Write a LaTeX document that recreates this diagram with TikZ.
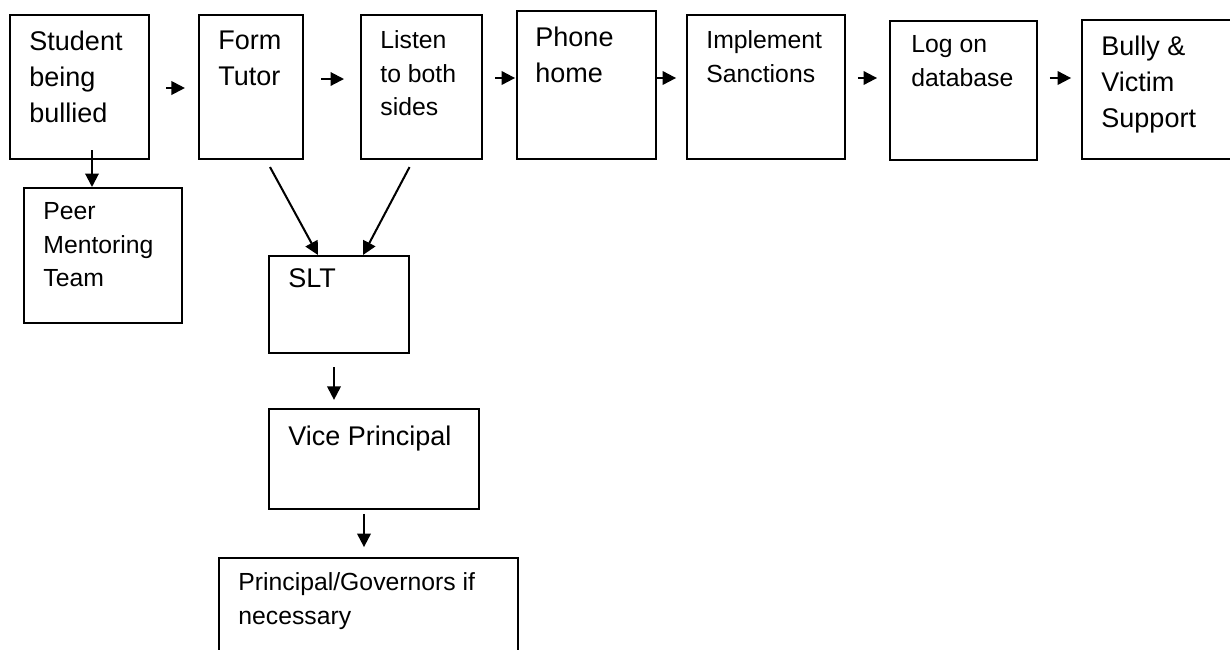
\documentclass[tikz,border=0pt]{standalone}
\usepackage{fontspec}
\setmainfont{Liberation Sans}
\usetikzlibrary{arrows.meta}

\begin{document}
\begin{tikzpicture}[x=0.4444pt, y=-0.4444pt,
    box/.style={draw, line width=0.9pt, inner sep=0pt, anchor=north west},
    big/.style={anchor=north west, inner sep=0pt, align=left, font=\fontsize{12}{16}\selectfont},
    small/.style={anchor=north west, inner sep=0pt, align=left, font=\fontsize{11}{15}\selectfont},
    arr/.style={line width=0.9pt, -{Triangle[length=6pt, width=6pt]}}]
  \useasboundingbox (0,0) rectangle (1230,649);
  % top row
  \node[box, minimum width=61.8pt, minimum height=64pt]   (stu)    at (9,14)    {};
  \node[box, minimum width=46.2pt, minimum height=64pt]   (form)   at (198,14)  {};
  \node[box, minimum width=53.8pt, minimum height=64pt]   (listen) at (360,14)  {};
  \node[box, minimum width=61.8pt, minimum height=65.8pt] (phone)  at (516,10)  {};
  \node[box, minimum width=70.2pt, minimum height=64pt]   (impl)   at (686,14)  {};
  \node[box, minimum width=65.3pt, minimum height=61.8pt] (log)    at (889,20)  {};
  \node[box, minimum width=71.1pt, minimum height=61.8pt] (bully)  at (1081,19) {};
  % lower boxes
  \node[box, minimum width=70.2pt, minimum height=60pt]   (peer)   at (23,187)  {};
  \node[box, minimum width=62.2pt, minimum height=43.1pt] (slt)    at (268,255) {};
  \node[box, minimum width=93.3pt, minimum height=44.4pt] (vp)     at (268,408) {};
  \node[box, minimum width=132.9pt, minimum height=53.3pt] (princ) at (218,557) {};
  % texts
  \node[big]   (stu-t)    at ([shift={(20,16)}]stu.north west)    {Student\\being\\bullied};
  \node[big]   (form-t)   at ([shift={(20,16)}]form.north west)   {Form\\Tutor};
  \node[small] (listen-t) at ([shift={(20,16)}]listen.north west) {Listen\\to both\\sides};
  \node[big]   (phone-t)  at ([shift={(19,16)}]phone.north west)  {Phone\\home};
  \node[small] (impl-t)   at ([shift={(20,16)}]impl.north west)   {Implement\\Sanctions};
  \node[small] (log-t)    at ([shift={(22,15)}]log.north west)    {Log on\\database};
  \node[big]   (bully-t)  at ([shift={(20,16)}]bully.north west)  {Bully \&\\Victim\\Support};
  \node[small] (peer-t)   at ([shift={(20,15)}]peer.north west)   {Peer\\Mentoring\\Team};
  \node[big]   (slt-t)    at ([shift={(20,13)}]slt.north west)    {SLT};
  \node[big]   (vp-t)     at ([shift={(20,17)}]vp.north west)     {Vice Principal};
  \node[small] (princ-t)  at ([shift={(20,15)}]princ.north west)  {Principal/Governors if\\necessary};
  % arrows along the top
  \draw[arr, shorten <=7.1pt, shorten >=5.8pt] (stu.east |- 0,88) -- (form.west |- 0,88);
  \draw[arr, shorten <=7.6pt, shorten >=7.1pt] (form.east |- 0,79) -- (listen.west |- 0,79);
  \draw[arr, shorten <=5.3pt, shorten >=0.4pt] (listen.east |- 0,78) -- (phone.west |- 0,78);
  \draw[arr, shorten >=4.4pt] (phone.east |- 0,78) -- (impl.west |- 0,78);
  \draw[arr, shorten <=5.3pt, shorten >=5.3pt] (impl.east |- 0,78) -- (log.west |- 0,78);
  \draw[arr, shorten <=5.3pt, shorten >=4.4pt] (log.east |- 0,78) -- (bully.west |- 0,78);
  % arrows going down
  \draw[arr, shorten <=-4.4pt] (stu.south -| 92,0) -- (peer.north -| 92,0);
  \draw[arr] ([shift={(19,7)}]form.south) -- ([shift={(50,0)}]slt.north west);
  \draw[arr] ([shift={(-12,7)}]listen.south) -- ([shift={(95,0)}]slt.north west);
  \draw[arr, shorten <=5.8pt, shorten >=3.6pt] (slt.south -| 334,0) -- (vp.north -| 334,0);
  \draw[arr, shorten <=1.8pt, shorten >=4.4pt] (vp.south -| 364,0) -- (princ.north -| 364,0);
\end{tikzpicture}
\end{document}
